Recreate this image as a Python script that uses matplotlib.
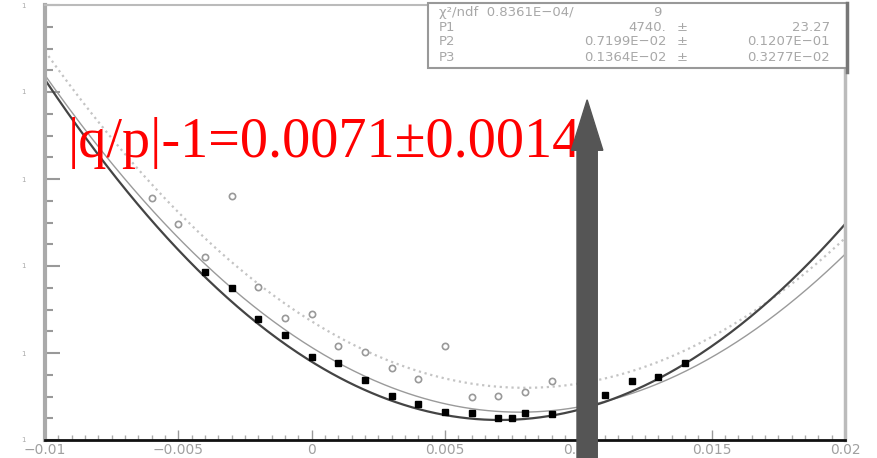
import numpy as np
import matplotlib
matplotlib.use("Agg")
from matplotlib import pyplot as plt
from matplotlib.ticker import MultipleLocator
from matplotlib.patches import FancyArrow, Rectangle

# filled points (measured asymmetry)
x_full = [-0.004, -0.003, -0.002, -0.001, 0.0, 0.001, 0.002, 0.003, 0.004, 0.005,
          0.006, 0.007, 0.0075, 0.008, 0.009, 0.011, 0.012, 0.013, 0.014]
y_full = [1.93, 1.75, 1.39, 1.21, 0.95, 0.89, 0.69, 0.51, 0.41, 0.32,
          0.31, 0.25, 0.25, 0.31, 0.30, 0.52, 0.68, 0.72, 0.89]

# open points
x_open = [-0.006, -0.005, -0.004, -0.003, -0.002, -0.001, 0.0, 0.001, 0.002, 0.003,
          0.004, 0.005, 0.006, 0.007, 0.008, 0.009]
y_open = [2.78, 2.48, 2.10, 2.81, 1.76, 1.40, 1.45, 1.08, 1.01, 0.83,
          0.70, 1.08, 0.49, 0.51, 0.55, 0.68]

# parabola fits: curvature, minimum position, minimum value
fit_a = [13440, 0.00706, 0.23]
fit_b = [12210, 0.00781, 0.32]
fit_c = [11940, 0.00800, 0.60]

stat_names = ["P1", "P2", "P3"]
stat_vals = ["4740.", "0.7199E\u221202", "0.1364E\u221202"]
stat_errs = ["23.27", "0.1207E\u221201", "0.3277E\u221202"]

x_ticks = [-0.01, -0.005, 0, 0.005, 0.01, 0.015, 0.02]
x_labels = ["\u22120.01", "\u22120.005", "0", "0.005", "0.01", "0.015", "0.02"]

arrow_x = 0.01033
arrow_top = 3.91

fig = plt.figure(figsize=(8.77, 4.58), dpi=100)
ax = fig.add_axes([45 / 877, 18 / 458, 800 / 877, 435 / 458])

xx = np.linspace(-0.01, 0.02, 400)
for (k, x0, y0), col, ls, lw in [(fit_c, "#c4c4c4", ":", 1.6),
                                 (fit_b, "#9a9a9a", "-", 1.0),
                                 (fit_a, "#444444", "-", 1.6)]:
    ax.plot(xx, k * (xx - x0) ** 2 + y0, color=col, ls=ls, lw=lw, zorder=2)

ax.plot(x_open, y_open, "o", ms=4.5, mfc="white", mec="#999999", mew=1.2, zorder=3)
ax.plot(x_full, y_full, "s", ms=4.5, color="black", zorder=4)

ax.set_xlim(-0.01, 0.02)
ax.set_ylim(0, 5)
ax.set_xticks(x_ticks)
ax.set_xticklabels(x_labels)
ax.xaxis.set_minor_locator(MultipleLocator(0.0005))
ax.set_yticks([0, 1, 2, 3, 4, 5])
ax.set_yticklabels(["1"] * 6)
ax.yaxis.set_minor_locator(MultipleLocator(0.25))
ax.tick_params(axis="x", which="major", direction="in", length=7, width=1, color="#999999",
               labelsize=10, labelcolor="#a0a0a0", pad=2)
ax.tick_params(axis="x", which="minor", direction="in", length=3.5, width=1, color="#aaaaaa")
ax.tick_params(axis="y", which="major", direction="in", length=11, width=1.5, color="#999999",
               labelsize=5, labelcolor="#aaaaaa", pad=14)
ax.tick_params(axis="y", which="minor", direction="in", length=6, width=1.5, color="#999999")

ax.spines["left"].set_color("#aaaaaa")
ax.spines["left"].set_linewidth(3)
ax.spines["bottom"].set_color("#111111")
ax.spines["bottom"].set_linewidth(2)
ax.spines["right"].set_color("#bbbbbb")
ax.spines["right"].set_linewidth(2.5)
ax.spines["top"].set_color("#bbbbbb")
ax.spines["top"].set_linewidth(1.5)

# stats box
box = Rectangle((0.4788, 0.855), 0.524, 0.150, transform=ax.transAxes, fill=True,
                fc="white", ec="#999999", lw=1.5, clip_on=False, zorder=6)
ax.add_patch(box)
ax.plot([1.0025, 1.0025], [0.845, 1.004], transform=ax.transAxes, color="#777777",
        lw=2.5, clip_on=False, zorder=7)
tc = "#a8a8a8"
fs = 9.5
ax.text(0.4925, 0.983, "\u03c7\u00b2/ndf  0.8361E\u221204/", transform=ax.transAxes,
        fontsize=fs, color=tc, va="center", zorder=8)
ax.text(0.770, 0.983, "9", transform=ax.transAxes, fontsize=fs, color=tc, va="center",
        ha="right", zorder=8)
rows_y = [0.949, 0.915, 0.880]
for name, val, err, ry in zip(stat_names, stat_vals, stat_errs, rows_y):
    ax.text(0.4925, ry, name, transform=ax.transAxes, fontsize=fs, color=tc, va="center", zorder=8)
    ax.text(0.777, ry, val, transform=ax.transAxes, fontsize=fs, color=tc, va="center",
            ha="right", zorder=8)
    ax.text(0.789, ry, "\u00b1", transform=ax.transAxes, fontsize=fs, color=tc, va="center", zorder=8)
    ax.text(0.981, ry, err, transform=ax.transAxes, fontsize=fs, color=tc, va="center",
            ha="right", zorder=8)

ax.text(0.02875, 0.6506, "|q/p|-1=0.0071\u00b10.0014", transform=ax.transAxes,
        fontsize=40.5, color="red", family="Liberation Serif", va="baseline", zorder=9,
        clip_on=False)

tail = -0.21
arr = FancyArrow(arrow_x, tail, 0, arrow_top - tail, width=0.00076, head_width=0.00118,
                 head_length=0.58, length_includes_head=True, color="#555555",
                 clip_on=False, zorder=10)
ax.add_patch(arr)

fig.savefig("out.png", dpi=100)
